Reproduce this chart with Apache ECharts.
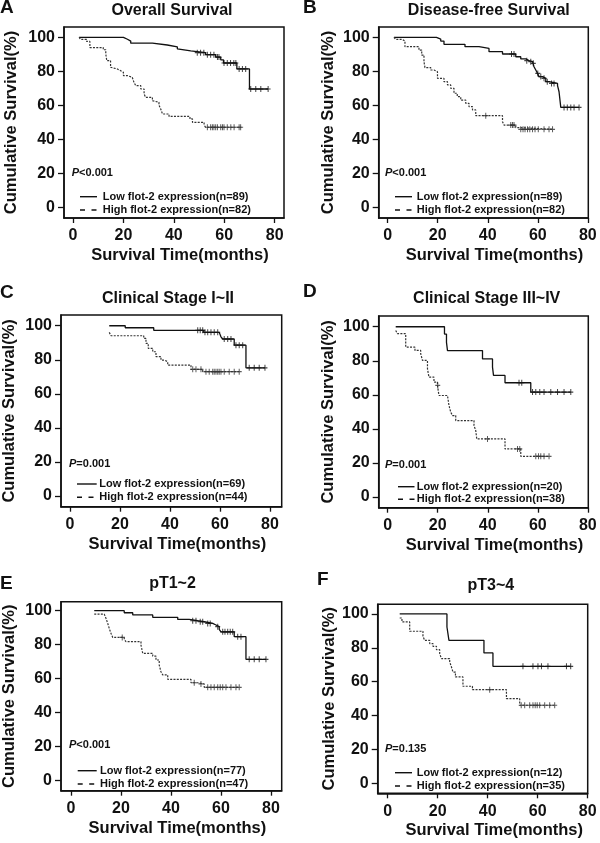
<!DOCTYPE html>
<html><head><meta charset="utf-8">
<script src="https://cdn.jsdelivr.net/npm/echarts@6/dist/echarts.min.js"></script>
<style>html,body{margin:0;padding:0;background:#fff}#c{width:600px;height:843px}</style>
</head><body><div id="c"></div>
<script>
// ---------- text ----------
const panelLetters = ['A','B','C','D','E','F'];
const panelTitles = ['Overall Survival','Disease-free Survival','Clinical Stage I~II','Clinical Stage III~IV','pT1~2','pT3~4'];
const pValues = ['<0.001','<0.001','=0.001','=0.001','<0.001','=0.135'];
const lowN = [89,89,69,20,77,12];
const highN = [82,82,44,38,47,35];
const xTicks = [0,20,40,60,80];
const yTicks = [0,20,40,60,80,100];
const xAxisName = 'Survival Time(months)';
const yAxisName = 'Cumulative Survival(%)';

// ---------- Kaplan-Meier steps [time, survival%] and censored times ----------
const A_low = [[2.4,100],[20.0,98.9],[21.6,97.8],[22.9,96.6],[31.5,95.5],[37.4,94.4],[41.4,93.2],[41.9,92.1],[46.7,91.0],[52.6,89.8],[56.6,88.4],[58.6,86.8],[59.7,84.9],[65.0,81.4],[70.0,69.6]];
const A_lowCens = [49.3,50.6,51.9,53.3,54.6,55.9,57.3,57.9,59.9,61.2,62.5,63.8,64.6,65.9,67.2,68.5,70.5,72.5,74.5,77.4];
const A_high = [[2.4,100],[3.0,98.8],[5.4,97.6],[6.7,94.0],[12.0,92.7],[13.0,90.2],[13.4,86.3],[14.9,82.4],[15.6,81.4],[17.6,80.4],[18.9,79.4],[20.0,77.5],[21.6,76.5],[23.5,75.5],[24.2,73.5],[24.9,71.6],[26.9,69.6],[28.2,66.7],[28.8,64.7],[31.5,62.7],[32.1,61.8],[34.1,60.2],[34.8,57.8],[35.5,54.9],[38.1,53.5],[46.4,52.0],[47.4,50.0],[52.0,48.4],[52.6,47.1]];
const A_highCens = [53.3,54.6,55.3,55.9,56.6,57.3,58.6,59.3,59.9,61.2,62.6,63.9,65.9,66.5];

const B_low = [[2.5,100],[19.5,99.0],[21.2,97.8],[22.5,95.9],[30.9,94.5],[36.5,93.5],[40.5,91.6],[45.9,90.2],[51.2,88.6],[53.2,87.3],[55.2,86.3],[56.5,85.7],[57.9,84.7],[58.5,82.7],[59.2,80.8],[59.9,78.8],[60.5,76.9],[61.9,75.9],[63.2,73.9],[64.5,72.9],[67.9,71.6],[68.5,68.0],[69.2,58.8]];
const B_lowCens = [49.5,50.5,55.6,57.2,58.2,60.0,61.2,62.5,63.8,65.5,66.5,70.5,71.8,73.2,74.5,76.5];
const B_high = [[2.5,100],[3.2,98.8],[5.9,97.8],[6.9,94.5],[12.5,92.5],[13.6,89.6],[14.5,85.7],[14.9,82.2],[17.2,80.8],[18.5,79.8],[19.9,75.9],[22.5,73.9],[23.9,72.0],[25.2,70.0],[26.5,67.1],[27.8,65.1],[29.2,63.1],[31.2,61.2],[32.5,59.2],[33.9,57.3],[35.2,53.9],[45.9,50.4],[46.5,48.4],[51.2,46.9],[52.5,45.9]];
const B_highCens = [39.2,49.2,49.9,50.5,53.2,54.1,54.9,55.9,56.8,57.9,58.9,60.2,62.5,64.5,65.9];

const C_low = [[15.7,100],[22.1,98.8],[33.5,97.3],[53.5,96.1],[59.7,95.5],[60.4,93.5],[61.1,92.2],[65.7,88.6],[70.4,75.3]];
const C_lowCens = [51.1,52.1,53.1,54.0,55.1,56.4,57.7,59.1,61.7,63.1,64.4,66.4,67.7,69.1,71.7,73.7,75.7,78.0];
const C_high = [[15.7,96.1],[16.4,94.1],[29.5,92.6],[30.4,89.6],[31.3,86.7],[33.1,84.7],[34.4,81.8],[36.4,79.8],[37.7,78.9],[39.1,76.9],[48.4,74.4],[53.1,73.0]];
const C_highCens = [49.1,50.4,52.4,54.4,55.7,57.1,57.7,58.4,59.1,59.7,60.4,61.7,63.7,65.7,67.7];

const D_low = [[3.2,100],[22.7,95.7],[23.5,90.8],[23.9,86.0],[37.9,81.1],[41.9,76.3],[42.3,71.4],[46.9,67.1],[57.2,61.6]];
const D_lowCens = [52.5,53.6,57.9,59.2,60.8,62.5,65.2,67.9,70.5,73.2];
const D_high = [[3.2,97.8],[3.9,95.9],[7.2,88.0],[10.9,86.1],[13.2,84.1],[13.9,80.2],[15.9,75.3],[16.5,70.4],[18.5,67.5],[19.9,65.5],[20.5,59.6],[23.9,58.6],[24.5,53.7],[25.2,49.8],[25.9,47.8],[27.2,44.9],[34.5,42.0],[35.2,39.0],[35.6,34.1],[46.9,28.2],[53.2,23.9]];
const D_highCens = [20.0,39.9,51.9,52.8,59.2,60.3,61.2,62.5,64.5];

const E_low = [[9.3,100],[21.3,98.8],[24.7,97.5],[32.7,96.1],[42.7,94.9],[47.3,94.1],[50.7,93.5],[53.3,92.5],[56.7,91.6],[58.0,90.6],[59.3,89.0],[60.0,87.6],[65.3,84.7],[70.0,71.4]];
const E_lowCens = [48.7,50.0,51.7,52.7,54.7,55.7,58.7,60.7,61.6,62.7,63.7,64.7,66.7,68.0,71.3,73.3,75.3,78.0];
const E_high = [[9.3,98.0],[13.3,96.9],[14.0,95.5],[14.7,92.5],[15.3,89.6],[16.0,86.7],[16.7,84.3],[21.3,83.1],[22.0,81.8],[28.0,79.8],[28.7,74.9],[32.7,73.3],[34.0,71.0],[35.3,68.0],[36.0,64.1],[36.7,62.2],[38.7,59.6],[48.0,57.6],[50.7,56.9],[53.3,54.9]];
const E_highCens = [20.5,49.3,52.0,54.7,56.0,57.3,58.7,59.7,60.7,62.0,64.0,66.0,67.3];

const F_low = [[4.8,100],[23.7,92.3],[24.5,84.4],[38.5,77.0],[42.1,69.1]];
const F_lowCens = [54.1,58.1,60.1,61.5,64.1,71.5,73.2];
const F_high = [[4.8,97.6],[5.7,95.3],[8.8,89.8],[14.1,86.8],[14.8,84.4],[16.8,82.5],[18.1,80.9],[19.5,78.9],[20.8,76.6],[21.5,73.6],[24.8,71.7],[25.5,68.7],[26.1,65.7],[27.1,62.8],[30.1,57.3],[33.9,55.3],[47.5,50.0],[52.8,46.1]];
const F_highCens = [40.8,53.4,54.8,56.8,58.1,59.0,59.8,60.8,62.8,64.8,66.8];

const lowCurves = [A_low,B_low,C_low,D_low,E_low,F_low];
const lowCens = [A_lowCens,B_lowCens,C_lowCens,D_lowCens,E_lowCens,F_lowCens];
const highCurves = [A_high,B_high,C_high,D_high,E_high,F_high];
const highCens = [A_highCens,B_highCens,C_highCens,D_highCens,E_highCens,F_highCens];

// ---------- layout (pixels) ----------
const FONT = '"Liberation Sans", Arial, Helvetica, sans-serif';
const INK = '#111';
const boxes = [
  {l:64,   t:27,    w:220,   h:191, xmin:-3.57, xmax:83.7, ymin:-6.3, ymax:106.1, nameShift:12, yGap:44},
  {l:378.7,t:27,    w:209.6, h:191, xmin:-3.6,  xmax:80.2, ymin:-6.3, ymax:106.1, nameShift:22, yGap:42},
  {l:61,   t:315,   w:220.7, h:191.7, xmin:-3.6, xmax:84.7, ymin:-6.3, ymax:106.3, nameShift:12, yGap:43},
  {l:378.7,t:316,   w:209.6, h:191.7, xmin:-3.6, xmax:80.2, ymin:-6.3, ymax:106.3, nameShift:22, yGap:42},
  {l:61,   t:601.7, w:220.7, h:189, xmin:-4,  xmax:84.3, ymin:-5.9, ymax:105.3, nameShift:12, yGap:43},
  {l:377.7,t:604.3, w:210,   h:189, xmin:-4,  xmax:80,   ymin:-5.9, ymax:105.7, nameShift:23, yGap:40}
];
const titlePos = [[172,11.7],[488.8,11.7],[168,300],[486.7,300],[172.5,585],[490.8,586.7]];
const letterPos = [[0,8.3],[303,8.3],[0,293.5],[303,292.5],[0,584],[317,580.5]];
const pPos = [[71.7,173.3],[385,173.3],[69,464],[385,465],[69,745],[385,749.3]];
const legPos = [ // [lineX1, lineX2, textX, row1Y, row2Y]
  [80,97,102.7,196.7,210],[395,412,416.7,196.7,210],[77,96.7,99.3,484,497.3],
  [398,414.5,416.7,486.7,499.3],[77.7,96.7,100,770.7,784],[395,412,416.7,772.7,786]
];

function stepAt(curve, t){
  let s = curve[0][1];
  for (const p of curve){ if (p[0] <= t) s = p[1]; }
  return s;
}
function extend(curve, cens){
  const out = curve.slice();
  const last = Math.max.apply(null, cens);
  if (last > curve[curve.length-1][0]) out.push([last, curve[curve.length-1][1]]);
  return out;
}
const CROSS = 'path://M4,0H6V4H10V6H6V10H4V6H0V4H4Z';

const option = {
  animation:false,
  backgroundColor:'#fff',
  textStyle:{fontFamily:FONT},
  title:[], grid:[], xAxis:[], yAxis:[], series:[], graphic:[]
};

boxes.forEach((b,i)=>{
  option.grid.push({left:b.l, top:b.t, width:b.w, height:b.h, show:true, borderColor:INK, borderWidth:1.5, outerBoundsMode:'none', containLabel:false});
  option.xAxis.push({
    type:'value', gridIndex:i, min:b.xmin, max:b.xmax,
    axisLine:{show:true, onZero:false, lineStyle:{color:INK, width:1.5}},
    axisTick:{show:true, customValues:xTicks, length:5, lineStyle:{color:INK, width:1.3}},
    axisLabel:{customValues:xTicks, margin:10, fontSize:16, fontWeight:'bold', color:INK, fontFamily:FONT},
    splitLine:{show:false},
    name:xAxisName, nameLocation:'middle', nameGap:29,
    nameTextStyle:{fontSize:16.5, fontWeight:'bold', color:INK, fontFamily:FONT, padding:[0,0,0,b.nameShift]}
  });
  option.yAxis.push({
    type:'value', gridIndex:i, min:b.ymin, max:b.ymax,
    axisLine:{show:true, onZero:false, lineStyle:{color:INK, width:1.5}},
    axisTick:{show:true, customValues:yTicks, length:6, lineStyle:{color:INK, width:1.3}},
    axisLabel:{customValues:yTicks, margin:9, fontSize:16, fontWeight:'bold', color:INK, fontFamily:FONT},
    splitLine:{show:false},
    name:yAxisName, nameLocation:'middle', nameGap:b.yGap,
    nameTextStyle:{fontSize:16.5, fontWeight:'bold', color:INK, fontFamily:FONT}
  });
  const lowName = 'Low flot-2 expression(n=' + lowN[i] + ')';
  const highName = 'High flot-2 expression(n=' + highN[i] + ')';
  option.series.push({
    type:'line', name:lowName, xAxisIndex:i, yAxisIndex:i, step:'end',
    data:extend(lowCurves[i], lowCens[i]), showSymbol:false, symbol:'none', silent:true,
    lineStyle:{color:INK, width:1.3}, z:3
  });
  option.series.push({
    type:'line', name:highName, xAxisIndex:i, yAxisIndex:i, step:'end',
    data:extend(highCurves[i], highCens[i]), showSymbol:false, symbol:'none', silent:true,
    lineStyle:{color:'#333', width:1.2, type:[2,1.3]}, z:3
  });
  option.series.push({
    type:'scatter', name:lowName + ' censored', xAxisIndex:i, yAxisIndex:i, silent:true,
    data:lowCens[i].map(t=>[t, stepAt(lowCurves[i], t)]),
    symbol:CROSS, symbolSize:[5,6], itemStyle:{color:INK}, z:4
  });
  option.series.push({
    type:'scatter', name:highName + ' censored', xAxisIndex:i, yAxisIndex:i, silent:true,
    data:highCens[i].map(t=>[t, stepAt(highCurves[i], t)]),
    symbol:CROSS, symbolSize:[5,6], itemStyle:{color:'#333'}, z:4
  });
  option.title.push({text:panelTitles[i], left:titlePos[i][0], top:titlePos[i][1]-9, textAlign:'center', padding:0,
    textStyle:{fontSize:16, fontWeight:'bold', color:INK, fontFamily:FONT}});
  option.title.push({text:panelLetters[i], left:letterPos[i][0], top:letterPos[i][1]-10, padding:0,
    textStyle:{fontSize:19, fontWeight:'bold', color:INK, fontFamily:FONT}});
  option.graphic.push({type:'text', x:pPos[i][0], y:pPos[i][1], silent:true, style:{
    text:'{i|P}' + pValues[i], fill:INK, fontFamily:FONT, fontSize:11, fontWeight:'bold', verticalAlign:'middle',
    rich:{i:{fontStyle:'italic', fontWeight:'bold', fontSize:11, fontFamily:FONT, fill:INK}}
  }});
  const L = legPos[i];
  option.graphic.push({type:'line', silent:true, shape:{x1:L[0], y1:L[3], x2:L[1], y2:L[3]}, style:{stroke:INK, lineWidth:1.4}});
  option.graphic.push({type:'line', silent:true, shape:{x1:L[0], y1:L[4], x2:L[1], y2:L[4]}, style:{stroke:INK, lineWidth:1.4, lineDash:[5,6.5]}});
  option.graphic.push({type:'text', silent:true, x:L[2], y:L[3], style:{text:lowName, fill:INK, fontFamily:FONT, fontSize:11, fontWeight:'bold', verticalAlign:'middle'}});
  option.graphic.push({type:'text', silent:true, x:L[2], y:L[4], style:{text:highName, fill:INK, fontFamily:FONT, fontSize:11, fontWeight:'bold', verticalAlign:'middle'}});
});

const chart = echarts.init(document.getElementById('c'), null, {renderer:'canvas'});
chart.setOption(option);
</script>
</body></html>
